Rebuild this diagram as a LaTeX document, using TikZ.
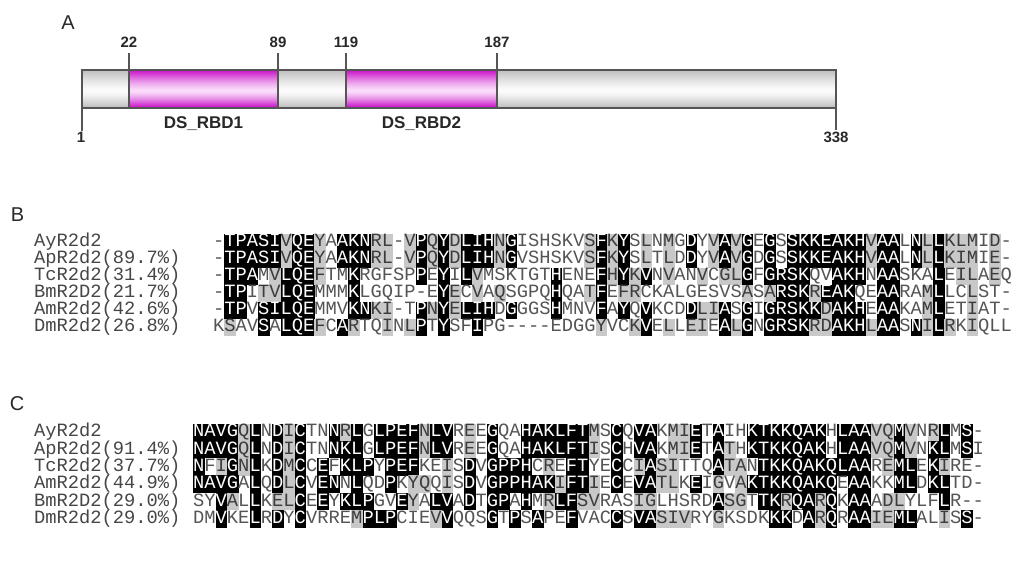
\documentclass[tikz,border=0pt]{standalone}
\usepackage{fontspec}
\setmainfont{Liberation Sans}
\newfontfamily\seqfont{Liberation Mono}
\definecolor{cellgray}{RGB}{200,200,200}
\definecolor{restxt}{RGB}{85,85,85}
\definecolor{resgtxt}{RGB}{60,60,60}
\definecolor{nametxt}{RGB}{70,70,70}
\definecolor{linegray}{RGB}{85,85,85}
\definecolor{baredge}{RGB}{188,188,188}
\definecolor{barmid}{RGB}{252,252,252}
\definecolor{magedge}{RGB}{200,10,200}
\definecolor{magmid}{RGB}{250,222,250}
\definecolor{labtxt}{RGB}{40,40,40}

\newcount\cidx
\newcount\rowno
\def\cellrow#1#2\relax#3#4\relax{%
  \cellat{#1}{#3}%
  \global\advance\cidx by 1\relax
  \ifx\relax#2\relax\else\cellrow#2\relax#4\relax\fi}
\def\cellat#1#2{%
  \pgfmathsetmacro\cx{\seqx+\the\cidx*\cw}%
  \pgfmathsetmacro\cm{\cx+0.5*\cw}%
  \if b#2\relax
    \fill[black] (\cx,\rtop) rectangle ++(\cw+0.3,\rh+0.3);
    \node[res,text=white] (\blk r\the\rowno c\the\cidx) at (\cm,\rbase) {#1};
  \else\if g#2\relax
    \fill[cellgray] (\cx,\rtop) rectangle ++(\cw+0.3,\rh+0.3);
    \node[res,text=resgtxt] (\blk r\the\rowno c\the\cidx) at (\cm,\rbase) {#1};
  \else
    \node[res,text=restxt] (\blk r\the\rowno c\the\cidx) at (\cm,\rbase) {#1};
  \fi\fi}
\newcommand\seqline[5]{%
  \def\blk{#1}\global\rowno=#2\relax
  \pgfmathsetmacro\rtop{\blocktop+(#2-1)*\rh}%
  \pgfmathsetmacro\rbase{\rtop+\baseoff}%
  \node[namestyle] (#1name#2) at (\namex,\rbase) {#3};
  \global\cidx=0\relax
  \cellrow#4\relax#5\relax}
% glossy band: #1 x-left, #2 x-right, #3 edge colour, #4 middle colour
\newcommand\glossband[4]{%
  \foreach \i in {0,...,37} {%
    \pgfmathsetmacro\tt{ifthenelse(\i+70.5<91,(91-70.5-\i)/21,(\i+70.5-91)/17)}%
    \pgfmathsetmacro\pp{100*min(1,\tt)^1.3}%
    \fill[#3!\pp!#4] (#1,70+\i) rectangle (#2,71.3+\i);
  }}

\tikzset{
  res/.style={font=\seqfont\fontsize{18.75}{20}\selectfont, inner sep=0pt, anchor=base},
  namestyle/.style={font=\seqfont\fontsize{18.75}{20}\selectfont, inner sep=0pt, anchor=base west, text=nametxt},
  panel/.style={font=\fontsize{20}{22}\selectfont, text=labtxt, inner sep=0pt},
  numlab/.style={font=\bfseries\fontsize{15}{16}\selectfont, text=labtxt, inner sep=0pt},
  domlab/.style={font=\bfseries\fontsize{17}{18}\selectfont, text=labtxt, inner sep=0pt},
  tickline/.style={draw=linegray, line width=1.2pt},
}

\begin{document}
\begin{tikzpicture}[x=1pt,y=-1pt]
\useasboundingbox (0,0) rectangle (1024,560);
\fill[white] (0,0) rectangle (1024,560);

% ---------------- Panel A ----------------
\node[panel] (labA) at (68,23) {A};
\glossband{82}{836}{baredge}{barmid}
\glossband{129}{278}{magedge}{magmid}
\glossband{346}{497}{magedge}{magmid}
\draw[tickline] (82,70) rectangle (836,108);
\node[numlab] (n22) at (129,42) {22};
\node[numlab] (n89) at (278,42) {89};
\node[numlab] (n119) at (346,42) {119};
\node[numlab] (n187) at (497,42) {187};
\node[numlab] (n1) at (81,137) {1};
\node[numlab] (n338) at (836,137) {338};
\coordinate (b22) at (129,108);
\coordinate (b89) at (278,108);
\coordinate (b119) at (346,108);
\coordinate (b187) at (497,108);
\coordinate (t1) at (82,70);
\coordinate (t338) at (836,70);
\draw[tickline] (129,53) -- (b22);
\draw[tickline] (278,53) -- (b89);
\draw[tickline] (346,53) -- (b119);
\draw[tickline] (497,53) -- (b187);
\draw[tickline] (t1) -- (82,131);
\draw[tickline] (t338) -- (836,130);
\node[domlab] (d1) at (203.5,124) {DS\_RBD1};
\node[domlab] (d2) at (421.5,124) {DS\_RBD2};

% ---------------- Panel B ----------------
\node[panel] (labB) at (17.5,215) {B};
\def\seqx{213}\def\cw{11.25}\def\rh{17}\def\blocktop{233.5}\def\baseoff{13}\def\namex{34}
\seqline{B}{1}{AyR2d2}{-TPASIVQEYAAKNRL-VPQYDLIHNGISHSKVSFKYSLNMGDYVAVGEGSSKKEAKHVAALNLLKLMID-}{.bbbbbgbbg .bbbgg.gbg bgbbbgb... ...gbgb.g. g.b.gbgb.b .bbbbbbbgb b.bgbggg.g .}
\seqline{B}{2}{ApR2d2(89.7\%)}{-TPASIVQEYAAKNRL-VPQYDLIHNGVSHSKVSFKYSLTLDDYVAVGDGSSKKEAKHVAALNLLKIMIE-}{.bbbbbgbbg .bbbgg.gbg bgbbbgb... ...gbgb.g. g.b.gbgb.b .bbbbbbbgb b.bgbggg.g .}
\seqline{B}{3}{TcR2d2(31.4\%)}{-TPAMVLQEFTMKRGFSPPEYILVMSKTGTHENEFHYKVNVANVCGLGFGRSKQVAKHNAASKALEILAEQ}{.bbb.gbbbg ..b.....b. b.bg...... b...bgbgb. g..g.ggb.b bbb..bbb.b b...b.gg.g .}
\seqline{B}{4}{BmR2D2(21.7\%)}{-TPITVLQEMMMKLGQIP-EYECVAQSGPQHQATFEFRCKALGESVSASARSKREAKQEAARAMLLCLST-}{.bb.ggbbb. ..b....... bg.g.g.... b..gb.gg.. .......g.g bbbgbbb..b b..gb..g.. .}
\seqline{B}{5}{AmR2d2(42.6\%)}{-TPVSILQEMMVKNKI-TPNYELIHDGGGSHMNVFAYQVKCDDLIASGIGRSKKDAKHEAAKAMLETIAT-}{.bb.bbbbb. ..bbgg..bg bgbbb.b... b...b.b.b. ..bggb.b.b bbbbgbbb.b b..gb..g.. .}
\seqline{B}{6}{DmR2d2(26.8\%)}{KSAVSALQEFCARTQINLPTYSFIPG----EDGGYVCKVELLEIEALGNGRSKRDAKHLAASNILRKIQLL}{.g..b.bbbg .bg..g.gb. b..b...... ....g..gb. g.gg.bgb.b bbbggbbbgb b.bgbg.g.. .}

% ---------------- Panel C ----------------
\node[panel] (labC) at (17,404) {C};
\def\seqx{193}\def\cw{11.3}\def\rh{17.3}\def\blocktop{423.5}\def\baseoff{13.3}\def\namex{34}
\seqline{C}{1}{AyR2d2}{NAVGQLNDICTNNRLGLPEFNLVREEGQAHAKLFTMSCQVAKMIETAIHKTKKQAKHLAAVQMVNRLMS-}{bbbbgb.bgb ..bgb.bbbb gbb.g.b..b bbbbbg.b.b b.ggb.b..b bbbbbb.bbb ggbg.gb.b.}
\seqline{C}{2}{ApR2d2(91.4\%)}{NAVGQLNDICTNNKLGLPEFNLVREEGQAHAKLFTISCHVAKMIETATHKTKKQAKHLAAVQMVNKLMSI}{bbbbgb.bgb ..bbb.bbbb gbb.g.b..b bbbbbg.b.b b.ggb.bg.b bbbbbb.bbb ggbg.bb.b.}
\seqline{C}{3}{TcR2d2(37.7\%)}{NFIGNLKDMCCEFKLPYPEFKEISDVGPPHCREFTYECCIASITTQATANTKKQAKQLAAREMLEKIRE-}{b.gbgb.bgb .b.bbb.bbb ..g.b.bbbb .g.bb..b.g bgg...bgg. bbbbbbbbbb .gbb.bg...}
\seqline{C}{4}{AmR2d2(44.9\%)}{NAVGALQDLCVENNLQDPKYQQISDVGPPHAKIFTIECEVATLKEIGVAKTKKQAKQEAAKKMLDKLTD-}{bbbb.b.bgb .bb.b..b.g g.g.b.bbbb bbgbbg.b.b bgg.b.g.gb bbbbbbb.bb ..bb.bb...}
\seqline{C}{5}{BmR2D2(29.0\%)}{SYVALLKELCEEYKLPGVEYALVADTGPAHMRLFSVRASIGLHSRDASGTTKRQARQKAAADLYLFLR--}{..bg.b.ggb .b.bbb..bg .bb.b.bb.b .gbbgg...g g.....bgg. bbgbbgb.bb .gg...b...}
\seqline{C}{6}{DmR2d2(29.0\%)}{DMVKELRDYCVRREMPLPCIEVVQQSGTPSAPEFVACCSVASIVRYGKSDKKKDARQRAAIEMLALISS-}{..b..b.b.b ....gbbb.. .gb...b.b. b..b...b.b bggg..g... .bb.bgb.bb ggbb..g.b.}
\end{tikzpicture}
\end{document}
